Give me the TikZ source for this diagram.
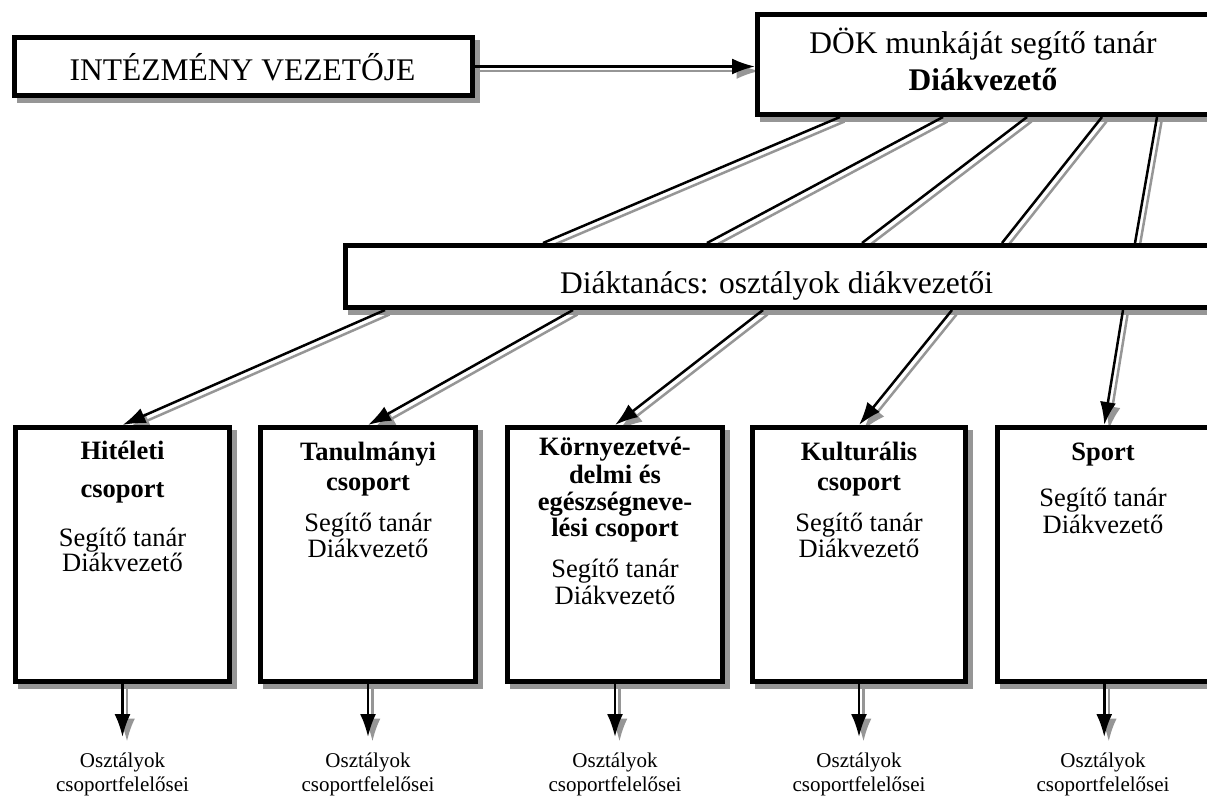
\documentclass[tikz,border=0pt]{standalone}
\usepackage{fontspec}
\setmainfont{Liberation Serif}
\usetikzlibrary{arrows.meta,backgrounds}
\definecolor{shdc}{RGB}{150,150,150}
\begin{document}
\begin{tikzpicture}[x=1pt,y=-1pt,
  box/.style={draw=black,line width=5pt,fill=white,inner sep=0pt,rectangle},
  blk/.style={draw=black,line width=2.5pt},
  gry/.style={draw=shdc,line width=2.5pt,transform canvas={xshift=4.5pt,yshift=-4.5pt}},
  boxshadow/.style={fill=shdc,transform canvas={xshift=5pt,yshift=-5pt}},
  tipb/.style={-{Latex[length=23pt,width=16pt]}},
  txt/.style={inner sep=0pt,anchor=base},
  big/.style={txt,font=\fontsize{31.5}{36}\selectfont},
  bigb/.style={txt,font=\fontsize{31.5}{36}\selectfont\bfseries},
  mid/.style={txt,font=\fontsize{26.5}{30}\selectfont},
  midb/.style={txt,font=\fontsize{26.5}{30}\selectfont\bfseries},
  sml/.style={txt,font=\fontsize{21}{24}\selectfont}]
\useasboundingbox (0,0) rectangle (1207,796);

% boxes
\node[box,minimum width=458pt,minimum height=58pt] (intez) at (243.5,66.5) {};
\node[box,minimum width=454.5pt,minimum height=100pt] (dok) at (984.75,64.5) {};
\node[box,minimum width=869.5pt,minimum height=62pt] (dt) at (780.25,276.5) {};
\node[box,minimum width=214pt,minimum height=254pt] (hit) at (122.5,554.5) {};
\node[box,minimum width=215pt,minimum height=254pt] (tan) at (368,554.5) {};
\node[box,minimum width=215pt,minimum height=254pt] (kor) at (615,554.5) {};
\node[box,minimum width=213pt,minimum height=254pt] (kul) at (859,554.5) {};
\node[box,minimum width=217.5pt,minimum height=254pt] (spo) at (1106.25,554.5) {};

% texts
\node[big] (t-intez) at (242.5,80) {INTÉZMÉNY VEZETŐJE};
\node[big] (t-dok1) at (983,53) {DÖK munkáját segítő tanár};
\node[bigb] (t-dok2) at (983,90) {Diákvezető};
\node[big] (t-dt) at (776.5,293) {Diáktanács: osztályok diákvezetői};

\node[midb] (hit1) at (122.5,459) {Hitéleti};
\node[midb] (hit2) at (122.5,497) {csoport};
\node[mid] (hit3) at (122.5,546) {Segítő tanár};
\node[mid] (hit4) at (122.5,571) {Diákvezető};

\node[midb] (tan1) at (368,460) {Tanulmányi};
\node[midb] (tan2) at (368,490) {csoport};
\node[mid] (tan3) at (368,531) {Segítő tanár};
\node[mid] (tan4) at (368,557) {Diákvezető};

\node[midb] (kor1) at (615,455) {Környezetvé-};
\node[midb] (kor2) at (615,483) {delmi és};
\node[midb] (kor3) at (615,510) {egészségneve-};
\node[midb] (kor4) at (615,536) {lési csoport};
\node[mid] (kor5) at (615,577) {Segítő tanár};
\node[mid] (kor6) at (615,604) {Diákvezető};

\node[midb] (kul1) at (859,460) {Kulturális};
\node[midb] (kul2) at (859,490) {csoport};
\node[mid] (kul3) at (859,531) {Segítő tanár};
\node[mid] (kul4) at (859,557) {Diákvezető};

\node[midb] (spo1) at (1103,460) {Sport};
\node[mid] (spo2) at (1103,506) {Segítő tanár};
\node[mid] (spo3) at (1103,533) {Diákvezető};

\foreach \n/\x in {1/122.5,2/368,3/615,4/859,5/1103}{
  \node[sml] (o\n a) at (\x,767) {Osztályok};
  \node[sml] (o\n b) at (\x,791) {csoportfelelősei};
}

% connector end points
\coordinate (u1) at (840,117);  \coordinate (v1) at (543,243);
\coordinate (u2) at (943,117);  \coordinate (v2) at (707,243);
\coordinate (u3) at (1027,117); \coordinate (v3) at (862,243);
\coordinate (u4) at (1102,117); \coordinate (v4) at (1002,243);
\coordinate (u5) at (1157,117); \coordinate (v5) at (1135,243);
\coordinate (w1) at (385,310);
\coordinate (w2) at (573,310);
\coordinate (w3) at (763,310);
\coordinate (w4) at (952,310);
\coordinate (w5) at (1123,310);
\path (hit.south) ++(0,53) coordinate (b1);
\path (tan.south) ++(0,53) coordinate (b2);
\path (kor.south) ++(0,53) coordinate (b3);
\path (kul.south) ++(0,53) coordinate (b4);
\path (spo.south) ++(-2,53) coordinate (b5);
\path (spo.south) ++(-2,0) coordinate (s5);

% shadows and gray lines
\begin{scope}[on background layer]
  \foreach \b in {intez,dok,dt,hit,tan,kor,kul,spo}{
    \fill[boxshadow] (\b.north west) rectangle (\b.south east);
  }
  \draw[gry,tipb] (intez.east) -- (intez.east -| dok.west);
  \foreach \i in {1,...,5}{ \draw[gry] (u\i) -- (v\i); }
  \draw[gry,tipb] (w1) -- (hit.north);
  \draw[gry,tipb] (w2) -- (tan.north);
  \draw[gry,tipb] (w3) -- (kor.north);
  \draw[gry,tipb] (w4) -- (kul.north);
  \draw[gry,tipb] (w5) -- (spo.north -| b5);
  \draw[gry,tipb] (hit.south) -- (b1);
  \draw[gry,tipb] (tan.south) -- (b2);
  \draw[gry,tipb] (kor.south) -- (b3);
  \draw[gry,tipb] (kul.south) -- (b4);
  \draw[gry,tipb] (s5) -- (b5);
\end{scope}

% black connectors
\draw[blk,tipb] (intez.east) -- (intez.east -| dok.west);
\foreach \i in {1,...,5}{ \draw[blk] (u\i) -- (v\i); }
\draw[blk,tipb] (w1) -- (hit.north);
\draw[blk,tipb] (w2) -- (tan.north);
\draw[blk,tipb] (w3) -- (kor.north);
\draw[blk,tipb] (w4) -- (kul.north);
\draw[blk,tipb] (w5) -- (spo.north -| b5);
\draw[blk,tipb] (hit.south) -- (b1);
\draw[blk,tipb] (tan.south) -- (b2);
\draw[blk,tipb] (kor.south) -- (b3);
\draw[blk,tipb] (kul.south) -- (b4);
\draw[blk,tipb] (s5) -- (b5);
\end{tikzpicture}
\end{document}
